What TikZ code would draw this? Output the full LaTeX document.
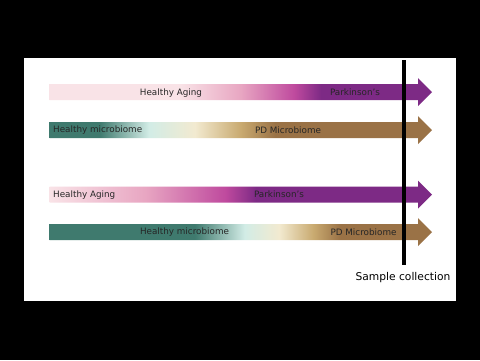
\documentclass[tikz,border=0pt]{standalone}
\usepackage{fontspec}
\setmainfont{DejaVu Sans}
\usepackage{tikz}

\definecolor{palepink}{HTML}{F9E3E7}
\definecolor{pink}{HTML}{E8A6C2}
\definecolor{magenta}{HTML}{BF4A9E}
\definecolor{purple}{HTML}{7D2A85}
\definecolor{teal}{HTML}{3F7A6E}
\definecolor{lightcyan}{HTML}{D2ECE6}
\definecolor{cream}{HTML}{F2EAD0}
\definecolor{tan}{HTML}{C9AA70}
\definecolor{brown}{HTML}{9A7246}

% bar box is mapped to 25bp..75bp
\pgfdeclarehorizontalshading{agingLate}{100bp}{color(0bp)=(palepink); color(25bp)=(palepink);
  color(42bp)=(palepink); color(50bp)=(pink); color(57bp)=(magenta); color(60.5bp)=(purple); color(100bp)=(purple)}
\pgfdeclarehorizontalshading{microEarly}{100bp}{color(0bp)=(teal); color(25bp)=(teal);
  color(31.5bp)=(teal); color(38bp)=(lightcyan); color(44bp)=(cream); color(50bp)=(tan); color(54.5bp)=(brown); color(100bp)=(brown)}
\pgfdeclarehorizontalshading{agingEarly}{100bp}{color(0bp)=(palepink); color(25bp)=(palepink);
  color(37.5bp)=(pink); color(48bp)=(magenta); color(52bp)=(purple); color(100bp)=(purple)}
\pgfdeclarehorizontalshading{microLate}{100bp}{color(0bp)=(teal); color(25bp)=(teal);
  color(44bp)=(teal); color(50.5bp)=(lightcyan); color(55bp)=(cream); color(59.5bp)=(tan); color(63bp)=(brown); color(100bp)=(brown)}

\tikzset{
  lbl/.style={font=\fontsize{8.8}{10}\selectfont, text=black!85, inner sep=0pt},
  bigarrow/.style={shading=#1, draw=none},
}

\begin{document}
\begin{tikzpicture}[x=1pt, y=-1pt]

  \newcommand\Xs{49.5}
  \newcommand\Xh{418}
  \newcommand\Xt{432}
  \newcommand\ArrowAt[2]{%
    \path[bigarrow=#2] (\Xs, #1-8) -- (\Xh, #1-8) -- (\Xh, #1-14) -- (\Xt, #1)
      -- (\Xh, #1+14) -- (\Xh, #1+8) -- (\Xs, #1+8) -- cycle;}

  % background and panel
  \fill[black] (0,0) rectangle (480,360);
  \fill[white] (24,58) rectangle (456,301);
  \useasboundingbox (0,0) rectangle (480,360);

  % first pair
  \ArrowAt{92}{agingLate}
  \ArrowAt{130}{microEarly}
  \node[lbl] (aging1) at (171,93) {Healthy Aging};
  \node[lbl] (pd1) at (355,92) {Parkinson’s};
  \node[lbl, anchor=west] (micro1) at (53,130.5) {Healthy microbiome};
  \node[lbl] (pdmicro1) at (288,130.5) {PD Microbiome};

  % second pair
  \ArrowAt{194.5}{agingEarly}
  \ArrowAt{232}{microLate}
  \node[lbl, anchor=west] (aging2) at (53,195.5) {Healthy Aging};
  \node[lbl] (pd2) at (279,194.5) {Parkinson’s};
  \node[lbl] (micro2) at (184.5,232.5) {Healthy microbiome};
  \node[lbl] (pdmicro2) at (363.5,232.5) {PD Microbiome};

  % sampling time
  \coordinate (lineTop) at (403.5,60);
  \coordinate (lineBot) at (403.5,265);
  \draw[line width=4pt] (lineTop) -- (lineBot);
  \node[font=\fontsize{10.7}{12}\selectfont, anchor=north] (sample) at (403,269) {Sample collection};

\end{tikzpicture}
\end{document}
